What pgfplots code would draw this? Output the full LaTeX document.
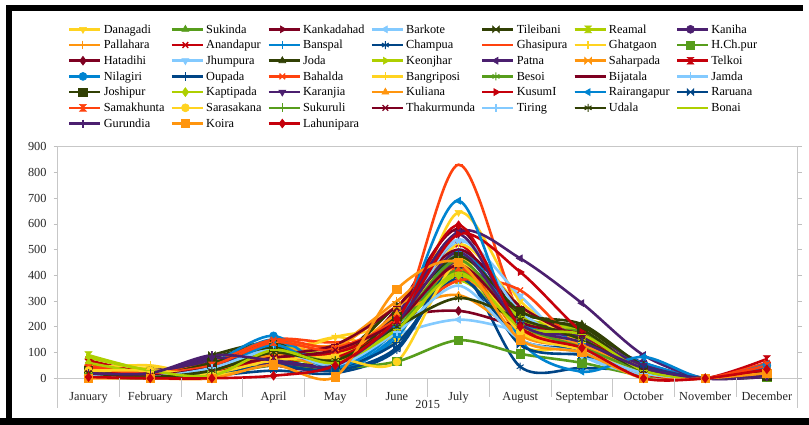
\documentclass[border=0pt]{standalone}
\usepackage{fontspec}
\setmainfont{Liberation Serif}
\usepackage{pgfplots}
\pgfplotsset{compat=1.18}
\definecolor{c1}{HTML}{FFD320}
\definecolor{c2}{HTML}{579D1C}
\definecolor{c3}{HTML}{7E0021}
\definecolor{c4}{HTML}{83CAFF}
\definecolor{c5}{HTML}{314004}
\definecolor{c6}{HTML}{AECF00}
\definecolor{c7}{HTML}{4B1F6F}
\definecolor{c8}{HTML}{FF950E}
\definecolor{c9}{HTML}{C5000B}
\definecolor{c10}{HTML}{0084D1}
\definecolor{c11}{HTML}{004586}
\definecolor{c12}{HTML}{FF420E}
\pgfdeclareplotmark{bowtie}{%
 \pgfpathmoveto{\pgfqpoint{-\pgfplotmarksize}{\pgfplotmarksize}}%
 \pgfpathlineto{\pgfqpoint{\pgfplotmarksize}{-\pgfplotmarksize}}%
 \pgfpathlineto{\pgfqpoint{\pgfplotmarksize}{\pgfplotmarksize}}%
 \pgfpathlineto{\pgfqpoint{-\pgfplotmarksize}{-\pgfplotmarksize}}%
 \pgfpathclose\pgfusepathqfillstroke}
\pgfdeclareplotmark{hourglass}{%
 \pgfpathmoveto{\pgfqpoint{-\pgfplotmarksize}{\pgfplotmarksize}}%
 \pgfpathlineto{\pgfqpoint{\pgfplotmarksize}{\pgfplotmarksize}}%
 \pgfpathlineto{\pgfqpoint{-\pgfplotmarksize}{-\pgfplotmarksize}}%
 \pgfpathlineto{\pgfqpoint{\pgfplotmarksize}{-\pgfplotmarksize}}%
 \pgfpathclose\pgfusepathqfillstroke}
\newcommand\fs{\fontsize{12.3}{14}\selectfont}
\pgfplotsset{
 mD/.style={mark=triangle*, mark options={solid, line width=0.6pt, rotate=180}},
 mU/.style={mark=triangle*, mark options={solid, line width=0.6pt}},
 mR/.style={mark=triangle*, mark options={solid, line width=0.6pt, rotate=-90}},
 mL/.style={mark=triangle*, mark options={solid, line width=0.6pt, rotate=90}},
 mB/.style={mark=bowtie, mark options={solid, line width=0.6pt, scale=0.85}},
 mH/.style={mark=hourglass, mark options={solid, line width=0.6pt, scale=0.85}},
 mC/.style={mark=*, mark options={solid, line width=0.6pt}},
 mS/.style={mark=+, mark options={solid, line width=1pt, scale=1.1}},
 mX/.style={mark=x, mark options={solid, line width=1.3pt}},
 mP/.style={mark=+, mark options={solid, line width=1.3pt}},
 mA/.style={mark=asterisk, mark options={solid, line width=1pt}},
 mHb/.style={mark=-, mark options={solid, line width=1.3pt}},
 mVb/.style={mark=|, mark options={solid, line width=1.3pt}},
 mSq/.style={mark=square*, mark options={solid, line width=0.6pt, scale=1.05}},
 mDi/.style={mark=diamond*, mark options={solid, line width=0.6pt, scale=1.1}},
}
\begin{document}
\begin{tikzpicture}
\path[use as bounding box] (0,0) rectangle (809pt,425pt);
\fill[white] (0,0) rectangle (809pt,425pt);
\fill[black] (5.5pt,413.5pt) rectangle (803pt,420pt);
\fill[black] (5.5pt,0) rectangle (11.7pt,420pt);
\fill[black] (0,0) rectangle (809pt,7pt);
\begin{axis}[
 at={(57.7pt,46.7pt)}, anchor=south west,
 scale only axis, width=740pt, height=231.6pt,
 xmin=-0.5, xmax=11.5, ymin=0, ymax=900,
 clip=false,
 xtick={0,...,11},
 xticklabels={January,February,March,April,May,June,July,August,Septembar,October,November,December},
 ytick={0,100,...,900},
 xtick style={draw=none},
 ytick style={draw=black!25, line width=0.8pt},
 tick align=outside, major tick length=4pt,
 axis line style={draw=black!22, line width=0.9pt},
 /pgf/number format/assume math mode=true,
 ticklabel style={font=\fs, text=black!85},
 xticklabel style={anchor=base, yshift=-18.5pt},
 yticklabel style={anchor=east, inner sep=0pt, xshift=-7pt},
 xlabel={2015},
 every axis x label/.style={at={(axis description cs:0.5,0)}, anchor=base, yshift=-30.5pt, font=\fs, text=black!85},
 every axis plot/.append style={line width=2.6pt, smooth, mark size=4pt},
 legend columns=7,
 legend cell align=left,
 legend image code/.code={\path (0pt,0pt) -- (31pt,0pt);\draw[mark repeat=2,mark phase=2,#1] plot coordinates {(0pt,0pt) (13.5pt,0pt) (27pt,0pt)};},
 legend style={at={(0.0139,1.539)}, anchor=north west, draw=none, fill=none, inner sep=0pt, font=\fs, row sep=1.2pt,
   /tikz/every odd column/.append style={inner sep=3pt},
   /tikz/every even column/.append style={column sep=4pt, text height=9pt, text depth=3pt}},
 legend entries={Danagadi,Sukinda,Kankadahad,Barkote,Tileibani,Reamal,Kaniha,
  Pallahara,Anandapur,Banspal,Champua,Ghasipura,Ghatgaon,H.Ch.pur,
  Hatadihi,Jhumpura,Joda,Keonjhar,Patna,Saharpada,Telkoi,
  Nilagiri,Oupada,Bahalda,Bangriposi,Besoi,Bijatala,Jamda,
  Joshipur,Kaptipada,Karanjia,Kuliana,KusumI,Rairangapur,Raruana,
  Samakhunta,Sarasakana,Sukuruli,Thakurmunda,Tiring,Udala,Bonai,
  Gurundia,Koira,Lahunipara},
]
% Danagadi
\addplot[c1,mD] coordinates {(0,20)(1,40)(2,10)(3,90)(4,160)(5,150)(6,645)(7,300)(8,150)(9,20)(10,0)(11,10)};
% Sukinda
\addplot[c2,mU] coordinates {(0,30)(1,10)(2,30)(3,120)(4,100)(5,230)(6,420)(7,260)(8,180)(9,30)(10,0)(11,20)};
% Kankadahad
\addplot[c3,mR] coordinates {(0,15)(1,5)(2,20)(3,60)(4,40)(5,270)(6,580)(7,230)(8,140)(9,20)(10,0)(11,15)};
% Barkote
\addplot[c4,mL] coordinates {(0,10)(1,5)(2,40)(3,110)(4,60)(5,170)(6,228)(7,180)(8,90)(9,10)(10,0)(11,10)};
% Tileibani
\addplot[c5,mB] coordinates {(0,40)(1,10)(2,90)(3,140)(4,80)(5,280)(6,400)(7,230)(8,200)(9,40)(10,0)(11,5)};
% Reamal
\addplot[c6,mH] coordinates {(0,90)(1,30)(2,20)(3,90)(4,50)(5,200)(6,380)(7,200)(8,120)(9,30)(10,0)(11,10)};
% Kaniha
\addplot[c7,mC] coordinates {(0,20)(1,30)(2,60)(3,70)(4,50)(5,200)(6,450)(7,240)(8,170)(9,60)(10,0)(11,20)};
% Pallahara
\addplot[c8,mS] coordinates {(0,50)(1,30)(2,30)(3,140)(4,130)(5,300)(6,470)(7,170)(8,120)(9,20)(10,0)(11,30)};
% Anandapur
\addplot[c9,mX] coordinates {(0,70)(1,20)(2,20)(3,60)(4,90)(5,240)(6,520)(7,200)(8,110)(9,20)(10,0)(11,40)};
% Banspal
\addplot[c10,mP] coordinates {(0,10)(1,5)(2,50)(3,150)(4,30)(5,160)(6,500)(7,220)(8,140)(9,60)(10,0)(11,40)};
% Champua
\addplot[c11,mA] coordinates {(0,5)(1,0)(2,10)(3,30)(4,20)(5,110)(6,420)(7,45)(8,40)(9,30)(10,0)(11,20)};
% Ghasipura
\addplot[c12,mHb] coordinates {(0,30)(1,20)(2,40)(3,150)(4,140)(5,190)(6,830)(7,250)(8,130)(9,20)(10,0)(11,60)};
% Ghatgaon
\addplot[c1,mVb] coordinates {(0,40)(1,50)(2,10)(3,80)(4,160)(5,220)(6,480)(7,130)(8,120)(9,20)(10,0)(11,15)};
% H.Ch.pur
\addplot[c2,mSq] coordinates {(0,10)(1,5)(2,10)(3,50)(4,40)(5,65)(6,148)(7,95)(8,60)(9,10)(10,0)(11,5)};
% Hatadihi
\addplot[c3,mDi] coordinates {(0,20)(1,10)(2,20)(3,60)(4,60)(5,230)(6,262)(7,200)(8,160)(9,40)(10,0)(11,10)};
% Jhumpura
\addplot[c4,mD] coordinates {(0,10)(1,5)(2,40)(3,100)(4,50)(5,170)(6,530)(7,320)(8,90)(9,15)(10,0)(11,25)};
% Joda
\addplot[c5,mU] coordinates {(0,20)(1,10)(2,80)(3,130)(4,70)(5,280)(6,410)(7,250)(8,210)(9,50)(10,0)(11,10)};
% Keonjhar
\addplot[c6,mR] coordinates {(0,80)(1,30)(2,10)(3,120)(4,90)(5,200)(6,420)(7,240)(8,180)(9,40)(10,0)(11,20)};
% Patna
\addplot[c7,mL] coordinates {(0,40)(1,20)(2,70)(3,60)(4,60)(5,250)(6,570)(7,466)(8,292)(9,90)(10,0)(11,10)};
% Saharpada
\addplot[c8,mB] coordinates {(0,30)(1,20)(2,30)(3,110)(4,120)(5,280)(6,400)(7,220)(8,150)(9,20)(10,0)(11,30)};
% Telkoi
\addplot[c9,mH] coordinates {(0,60)(1,10)(2,30)(3,70)(4,100)(5,200)(6,460)(7,180)(8,130)(9,20)(10,0)(11,75)};
% Nilagiri
\addplot[c10,mC] coordinates {(0,10)(1,5)(2,60)(3,165)(4,30)(5,170)(6,480)(7,220)(8,140)(9,30)(10,0)(11,50)};
% Oupada
\addplot[c11,mS] coordinates {(0,10)(1,5)(2,40)(3,70)(4,40)(5,140)(6,390)(7,150)(8,110)(9,30)(10,0)(11,15)};
% Bahalda
\addplot[c12,mX] coordinates {(0,50)(1,20)(2,60)(3,150)(4,120)(5,220)(6,380)(7,342)(8,120)(9,20)(10,0)(11,60)};
% Bangriposi
\addplot[c1,mP] coordinates {(0,20)(1,30)(2,10)(3,70)(4,90)(5,180)(6,520)(7,280)(8,140)(9,30)(10,0)(11,10)};
% Besoi
\addplot[c2,mA] coordinates {(0,20)(1,5)(2,20)(3,100)(4,60)(5,200)(6,420)(7,200)(8,180)(9,30)(10,0)(11,20)};
% Bijatala
\addplot[c3,mHb] coordinates {(0,10)(1,10)(2,50)(3,90)(4,130)(5,280)(6,500)(7,280)(8,150)(9,30)(10,0)(11,20)};
% Jamda
\addplot[c4,mVb] coordinates {(0,10)(1,5)(2,30)(3,120)(4,40)(5,200)(6,540)(7,260)(8,120)(9,20)(10,0)(11,15)};
% Joshipur
\addplot[c5,mSq] coordinates {(0,30)(1,10)(2,60)(3,120)(4,60)(5,240)(6,474)(7,260)(8,190)(9,30)(10,0)(11,10)};
% Kaptipada
\addplot[c6,mDi] coordinates {(0,60)(1,20)(2,20)(3,80)(4,60)(5,190)(6,400)(7,230)(8,150)(9,30)(10,0)(11,20)};
% Karanjia
\addplot[c7,mD] coordinates {(0,20)(1,20)(2,80)(3,50)(4,40)(5,230)(6,560)(7,210)(8,160)(9,50)(10,0)(11,5)};
% Kuliana
\addplot[c8,mU] coordinates {(0,20)(1,10)(2,20)(3,90)(4,60)(5,250)(6,323)(7,180)(8,130)(9,20)(10,0)(11,10)};
% KusumI
\addplot[c9,mR] coordinates {(0,40)(1,10)(2,20)(3,80)(4,80)(5,220)(6,560)(7,413)(8,180)(9,20)(10,0)(11,30)};
% Rairangapur
\addplot[c10,mL] coordinates {(0,10)(1,5)(2,30)(3,130)(4,40)(5,200)(6,690)(7,150)(8,26)(9,83)(10,0)(11,55)};
% Raruana
\addplot[c11,mB] coordinates {(0,5)(1,0)(2,20)(3,50)(4,30)(5,120)(6,440)(7,130)(8,90)(9,40)(10,0)(11,20)};
% Samakhunta
\addplot[c12,mH] coordinates {(0,40)(1,20)(2,50)(3,140)(4,110)(5,230)(6,430)(7,190)(8,110)(9,20)(10,0)(11,50)};
% Sarasakana
\addplot[c1,mC] coordinates {(0,30)(1,30)(2,20)(3,70)(4,80)(5,64)(6,450)(7,180)(8,110)(9,20)(10,0)(11,15)};
% Sukuruli
\addplot[c2,mS] coordinates {(0,20)(1,5)(2,30)(3,110)(4,70)(5,210)(6,460)(7,210)(8,120)(9,30)(10,0)(11,15)};
% Thakurmunda
\addplot[c3,mX] coordinates {(0,20)(1,10)(2,40)(3,80)(4,110)(5,220)(6,440)(7,220)(8,170)(9,30)(10,0)(11,25)};
% Tiring
\addplot[c4,mP] coordinates {(0,10)(1,5)(2,40)(3,110)(4,50)(5,180)(6,360)(7,150)(8,100)(9,20)(10,0)(11,10)};
% Udala
\addplot[c5,mA] coordinates {(0,20)(1,5)(2,30)(3,100)(4,70)(5,200)(6,312)(7,230)(8,150)(9,30)(10,0)(11,10)};
% Bonai
\addplot[c6,mHb] coordinates {(0,85)(1,30)(2,10)(3,110)(4,60)(5,190)(6,410)(7,200)(8,170)(9,30)(10,0)(11,20)};
% Gurundia
\addplot[c7,mVb] coordinates {(0,20)(1,20)(2,90)(3,70)(4,50)(5,220)(6,490)(7,210)(8,140)(9,40)(10,0)(11,10)};
% Koira
\addplot[c8,mSq] coordinates {(0,0)(1,0)(2,0)(3,52)(4,6)(5,347)(6,450)(7,150)(8,100)(9,0)(10,0)(11,20)};
% Lahunipara
\addplot[c9,mDi] coordinates {(0,5)(1,0)(2,0)(3,10)(4,50)(5,230)(6,595)(7,200)(8,118)(9,0)(10,0)(11,35)};
% category separators (vertical, in canvas units)
\draw[black!22, line width=0.9pt] (axis cs:-0.5,0) -- ([yshift=-29.7pt]axis cs:-0.5,0);
\draw[black!22, line width=0.9pt] (axis cs:11.5,0) -- ([yshift=-29.7pt]axis cs:11.5,0);
\draw[black!22, line width=0.9pt] (axis cs:0.5,0) -- ([yshift=-19pt]axis cs:0.5,0);
\draw[black!22, line width=0.9pt] (axis cs:1.5,0) -- ([yshift=-19pt]axis cs:1.5,0);
\draw[black!22, line width=0.9pt] (axis cs:2.5,0) -- ([yshift=-19pt]axis cs:2.5,0);
\draw[black!22, line width=0.9pt] (axis cs:3.5,0) -- ([yshift=-19pt]axis cs:3.5,0);
\draw[black!22, line width=0.9pt] (axis cs:4.5,0) -- ([yshift=-19pt]axis cs:4.5,0);
\draw[black!22, line width=0.9pt] (axis cs:5.5,0) -- ([yshift=-19pt]axis cs:5.5,0);
\draw[black!22, line width=0.9pt] (axis cs:6.5,0) -- ([yshift=-19pt]axis cs:6.5,0);
\draw[black!22, line width=0.9pt] (axis cs:7.5,0) -- ([yshift=-19pt]axis cs:7.5,0);
\draw[black!22, line width=0.9pt] (axis cs:8.5,0) -- ([yshift=-19pt]axis cs:8.5,0);
\draw[black!22, line width=0.9pt] (axis cs:9.5,0) -- ([yshift=-19pt]axis cs:9.5,0);
\draw[black!22, line width=0.9pt] (axis cs:10.5,0) -- ([yshift=-19pt]axis cs:10.5,0);
\end{axis}
\end{tikzpicture}
\end{document}
